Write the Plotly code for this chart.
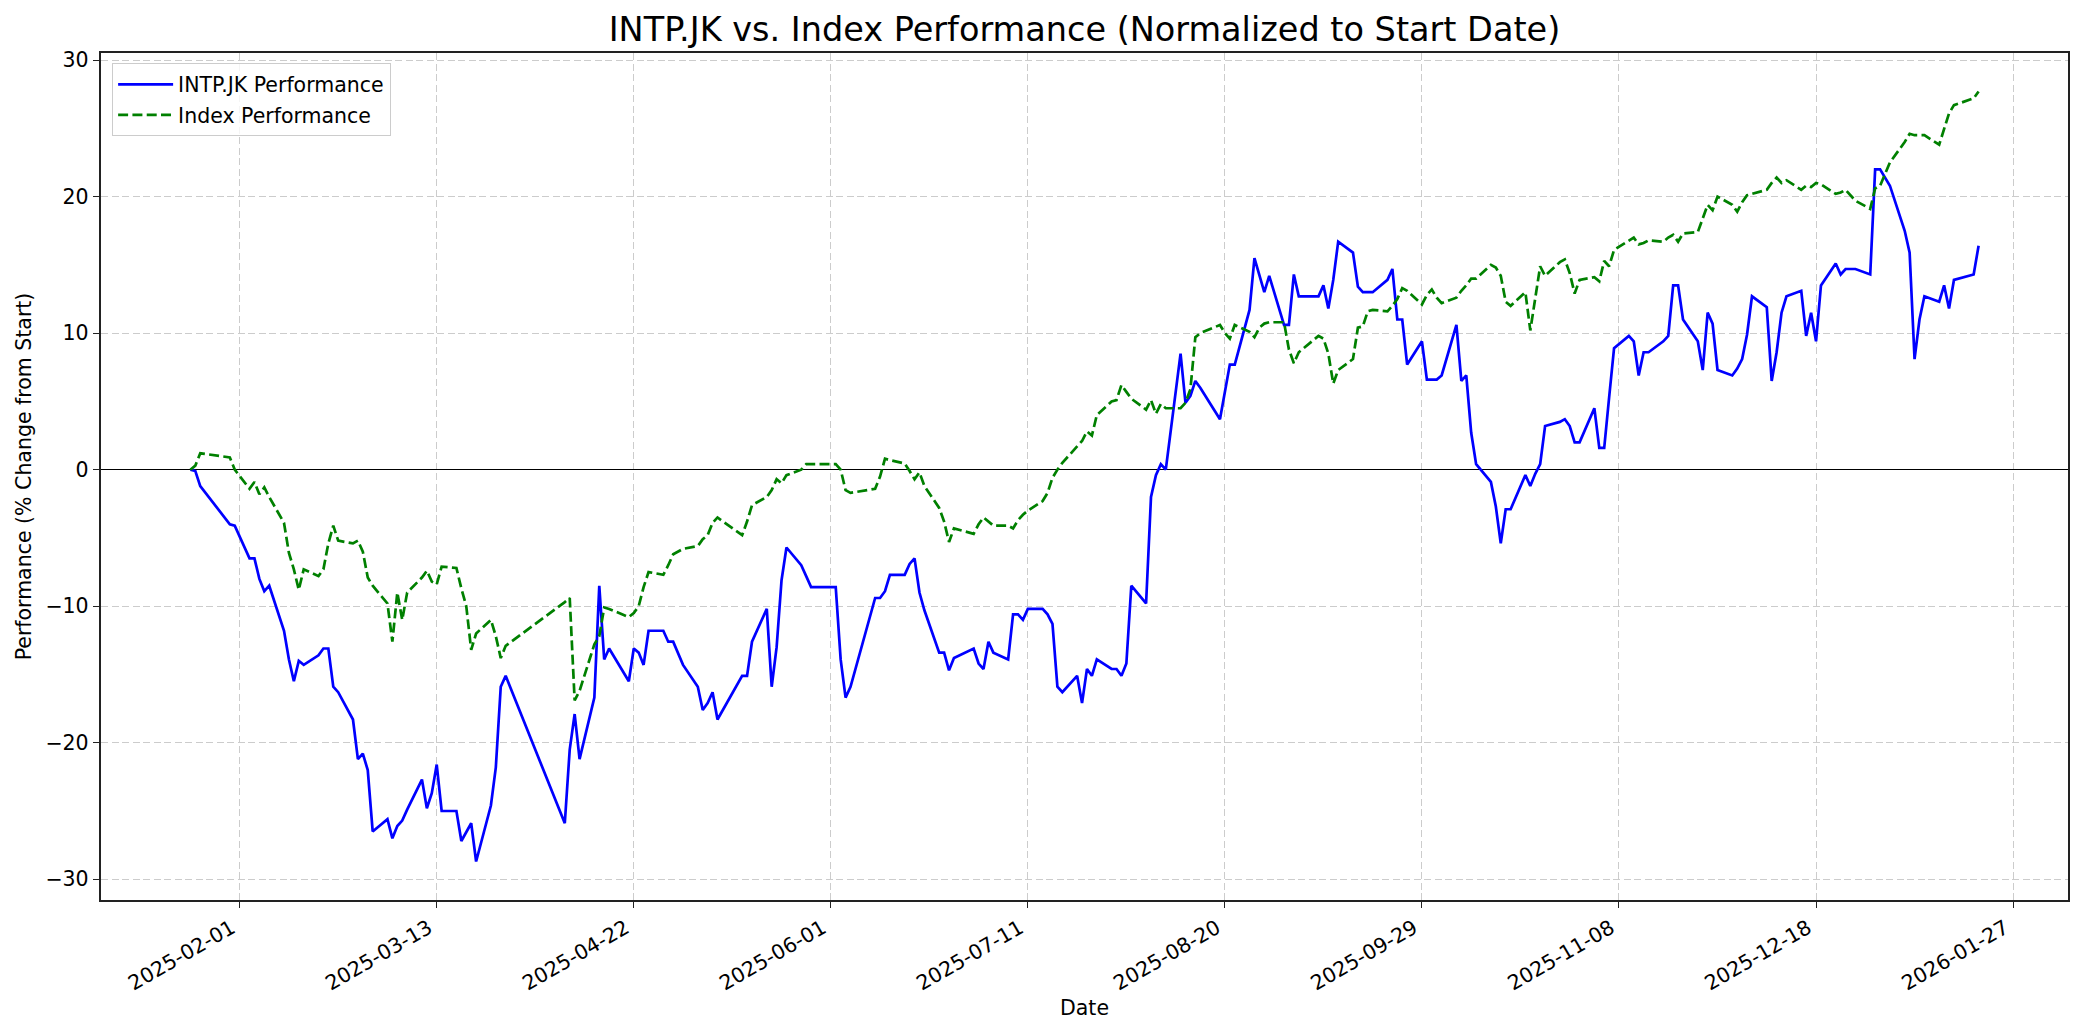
import plotly.graph_objects as go
import pandas as pd

# ---- trading days (day-of-month) per month ----
DAYS_2025_01 = [22, 23, 24, 30, 31]
DAYS_2025_02 = [3, 4, 5, 6, 7, 10, 11, 12, 13, 14, 17, 18, 19, 20, 21, 24, 25, 26, 27, 28]
DAYS_2025_03 = [3, 4, 5, 6, 7, 10, 11, 12, 13, 14, 17, 18, 19, 20, 21, 24, 25, 26, 27]
DAYS_2025_04 = [8, 9, 10, 11, 14, 15, 16, 17, 21, 22, 23, 24, 25, 28, 29, 30]
DAYS_2025_05 = [2, 5, 6, 7, 8, 9, 14, 15, 16, 19, 20, 21, 22, 23, 26, 27, 28]
DAYS_2025_06 = [2, 3, 4, 5, 10, 11, 12, 13, 16, 17, 18, 19, 20, 23, 24, 25, 26, 30]
DAYS_2025_07 = [1, 2, 3, 4, 7, 8, 9, 10, 11, 14, 15, 16, 17, 18, 21, 22, 23, 24, 25, 28, 29, 30, 31]
DAYS_2025_08 = [1, 4, 5, 6, 7, 8, 11, 12, 13, 14, 15, 19, 20, 21, 22, 25, 26, 27, 28, 29]
DAYS_2025_09 = [1, 2, 3, 4, 8, 9, 10, 11, 12, 15, 16, 17, 18, 19, 22, 23, 24, 25, 26, 29, 30]
DAYS_2025_10 = [1, 2, 3, 6, 7, 8, 9, 10, 13, 14, 15, 16, 17, 20, 21, 22, 23, 24, 27, 28, 29, 30, 31]
DAYS_2025_11 = [3, 4, 5, 6, 7, 10, 11, 12, 13, 14, 17, 18, 19, 20, 21, 24, 25, 26, 27, 28]
DAYS_2025_12 = [1, 2, 3, 4, 5, 8, 9, 10, 11, 12, 15, 16, 17, 18, 19, 22, 23, 24, 26, 29, 30, 31]
DAYS_2026_01 = [2, 5, 6, 7, 8, 9, 12, 13, 14, 15, 19, 20]

MONTHS = [
    ("2025-01", DAYS_2025_01), ("2025-02", DAYS_2025_02), ("2025-03", DAYS_2025_03),
    ("2025-04", DAYS_2025_04), ("2025-05", DAYS_2025_05), ("2025-06", DAYS_2025_06),
    ("2025-07", DAYS_2025_07), ("2025-08", DAYS_2025_08), ("2025-09", DAYS_2025_09),
    ("2025-10", DAYS_2025_10), ("2025-11", DAYS_2025_11), ("2025-12", DAYS_2025_12),
    ("2026-01", DAYS_2026_01),
]
DATES = [f"{m}-{d:02d}" for m, days in MONTHS for d in days]

# ---- INTP.JK performance (% change from start) ----
INTP_PCT = [
    0.0, -0.1, -1.2, -4.0, -4.1,                                   # Jan
    -6.5, -6.5, -8.0, -8.9, -8.5, -11.8, -13.9, -15.5, -14.0, -14.3,
    -13.6, -13.1, -13.1, -15.9, -16.3, -18.3, -21.2, -20.8, -22.0, -26.5,  # Feb
    -25.6, -27.0, -26.1, -25.7, -24.9, -22.7, -24.8, -23.7, -21.6, -25.0,
    -25.0, -27.2, -26.6, -25.9, -28.7, -24.6, -21.8, -15.9, -15.1,          # Mar
    -25.9, -20.5, -17.9, -21.2, -16.7, -8.5, -13.9, -13.1,
    -15.5, -13.1, -13.4, -14.3, -11.8, -11.8, -12.6, -12.6,                 # Apr
    -14.3, -15.9, -17.6, -17.1, -16.3, -18.3, -15.1, -15.1, -12.6,
    -10.2, -15.9, -13.0, -8.1, -5.7, -7.0, -7.8, -8.6,                      # May
    -8.6, -13.9, -16.7, -15.9, -9.4, -9.4, -8.9, -7.7, -7.7, -6.9,
    -6.5, -9.0, -10.3, -13.4, -13.4, -14.7, -13.8, -13.1,                   # Jun
    -14.2, -14.6, -12.6, -13.4, -13.9, -10.6, -10.6, -11.0, -10.2, -10.2,
    -10.6, -11.3, -15.9, -16.3, -15.1, -17.1, -14.6, -15.1, -13.9, -14.6,
    -14.6, -15.1, -14.2,                                                    # Jul
    -8.5, -9.8, -2.0, -0.4, 0.4, 0.0, 8.5, 4.9, 5.4, 6.5,
    6.0, 3.7, 5.7, 7.7, 7.7, 11.7, 15.5, 14.2, 13.0, 14.2,                  # Aug
    10.6, 10.6, 14.3, 12.7, 12.7, 13.5, 11.8, 13.9, 16.7, 15.9,
    13.4, 13.0, 13.0, 13.0, 13.9, 14.7, 11.0, 11.0, 7.7, 9.4, 6.6,          # Sep
    6.6, 6.6, 6.9, 10.6, 6.5, 6.9, 2.7, 0.4, -0.9, -2.7,
    -5.4, -2.9, -2.9, -0.4, -1.2, -0.3, 0.4, 3.2, 3.5, 3.7,
    3.2, 2.0, 2.0,                                                          # Oct
    4.5, 1.6, 1.6, 5.3, 8.9, 9.8, 9.4, 6.9, 8.6, 8.6,
    9.4, 9.8, 13.5, 13.5, 11.0, 9.4, 7.3, 11.5, 10.7, 7.3,                  # Nov
    6.9, 7.4, 8.1, 9.9, 12.7, 11.9, 6.5, 8.6, 11.5, 12.7,
    13.1, 9.8, 11.5, 9.4, 13.5, 15.1, 14.3, 14.7, 14.7, 14.3, 22.0, 22.0,   # Dec
    20.8, 17.5, 15.9, 8.1, 11.0, 12.7, 12.3, 13.5, 11.8, 13.9, 14.3, 16.4,  # Jan 2026
]

# ---- Index performance (% change from start) ----
INDEX_PCT = [
    0.0, 0.3, 1.2, 0.9, 0.0,                                        # Jan
    -1.4, -0.9, -1.8, -1.3, -2.0, -3.9, -6.1, -7.3, -8.8, -7.3,
    -7.8, -7.3, -5.4, -4.1, -5.2, -5.4, -5.2, -6.0, -7.9, -8.5,             # Feb
    -9.8, -12.6, -9.0, -11.0, -9.0, -7.9, -7.4, -8.2, -8.4, -7.1,
    -7.2, -8.7, -10.0, -13.2, -12.0, -11.0, -12.2, -13.8, -12.9,            # Mar
    -9.7, -9.4, -16.9, -16.2, -12.8, -12.2, -10.1, -10.2,
    -10.8, -10.5, -10.0, -8.6, -7.5, -7.7, -7.0, -6.2,                      # Apr
    -5.8, -5.6, -5.1, -4.8, -3.9, -3.5, -4.8, -3.8, -2.6,
    -2.0, -1.5, -0.7, -1.0, -0.4, 0.0, 0.4, 0.4,                            # May
    0.4, 0.0, -1.5, -1.7, -1.4, -0.5, 0.8, 0.7, 0.45, -0.1,
    -0.7, -0.2, -1.2, -2.8, -3.8, -5.3, -4.3, -4.7,                         # Jun
    -4.0, -3.5, -3.8, -4.1, -4.1, -4.3, -3.7, -3.3, -3.0, -2.3,
    -1.7, -0.6, 0.0, 0.5, 1.7, 2.1, 2.8, 2.5, 4.0, 5.0,
    5.1, 6.2, 5.7,                                                          # Jul
    5.2, 4.4, 5.1, 4.1, 4.8, 4.5, 4.5, 4.9, 5.9, 9.7,
    10.0, 10.6, 10.0, 9.6, 10.6, 10.1, 9.7, 10.4, 10.7, 10.8,               # Aug
    10.8, 8.8, 7.8, 8.6, 9.8, 9.6, 8.5, 6.3, 7.3, 8.1,
    10.4, 10.5, 11.6, 11.7, 11.6, 12.0, 12.5, 13.3, 13.1, 12.1, 12.8,       # Sep
    13.2, 12.6, 12.2, 12.6, 13.1, 13.5, 14.0, 14.0, 15.0, 14.8,
    14.2, 12.3, 12.0, 13.0, 10.2, 12.6, 14.9, 14.2, 15.2, 15.4,
    14.4, 12.9, 13.9,                                                       # Oct
    14.1, 13.8, 15.3, 14.9, 16.1, 16.8, 17.0, 16.5, 16.6, 16.8,
    16.7, 17.0, 17.2, 16.7, 17.3, 17.4, 18.4, 19.4, 19.0, 20.0,             # Nov
    19.4, 18.9, 19.6, 20.1, 20.2, 20.5, 21.0, 21.4, 21.0, 21.2,
    20.5, 20.8, 20.7, 21.0, 20.9, 20.2, 20.3, 20.5, 19.7, 19.1, 20.6, 20.8, # Dec
    22.5, 24.0, 24.6, 24.5, 24.5, 24.5, 23.8, 25.0, 26.1, 26.7, 27.2, 27.7, # Jan 2026
]

X_TICKS = ["2025-02-01", "2025-03-13", "2025-04-22", "2025-06-01", "2025-07-11",
           "2025-08-20", "2025-09-29", "2025-11-08", "2025-12-18", "2026-01-27"]
Y_TICKS = [-30, -20, -10, 0, 10, 20, 30]

assert len(DATES) == len(INTP_PCT) == len(INDEX_PCT), (len(DATES), len(INTP_PCT), len(INDEX_PCT))

FONT = "DejaVu Sans"
TXT = 20.5

# matplotlib-like 5% auto margins
t0, t1 = pd.Timestamp(DATES[0]), pd.Timestamp(DATES[-1])
xpad = (t1 - t0) * 0.05
x_range = [(t0 - xpad).isoformat(), (t1 + xpad).isoformat()]
lo = min(min(INTP_PCT), min(INDEX_PCT))
hi = max(max(INTP_PCT), max(INDEX_PCT))
ypad = (hi - lo) * 0.05
y_range = [lo - ypad, hi + ypad]

fig = go.Figure()
fig.add_trace(go.Scatter(
    x=DATES, y=INTP_PCT, mode="lines", name="INTP.JK Performance",
    legendgroup="a", line=dict(color="#0000ff", width=2.7),
))
fig.add_trace(go.Scatter(
    x=DATES, y=INDEX_PCT, mode="lines", name="Index Performance",
    legendgroup="b", line=dict(color="#008000", width=2.7, dash="10px,4.3px"),
))

axis_common = dict(
    showline=True, linecolor="#222222", linewidth=1.5, mirror=True,
    showgrid=True, gridcolor="#cccccc", gridwidth=1.3, griddash="7px,3.5px",
    ticks="outside", ticklen=6.5, tickwidth=1.4, tickcolor="#222222",
    tickfont=dict(family=FONT, size=TXT, color="black"),
)

fig.update_xaxes(
    type="date", range=x_range, tickmode="array", tickvals=X_TICKS, ticktext=X_TICKS,
    tickangle=-30, automargin=False, ticklabelshift=-8, ticklabelstandoff=0,
    title=dict(text="Date", font=dict(family=FONT, size=TXT, color="black"), standoff=6),
    **axis_common,
)
fig.update_yaxes(
    range=y_range, tickmode="array", tickvals=Y_TICKS, automargin=False,
    zeroline=True, zerolinecolor="black", zerolinewidth=1.3,
    title=dict(text="Performance (% Change from Start)", font=dict(family=FONT, size=TXT, color="black"), standoff=8),
    **axis_common,
)

fig.update_layout(
    width=2084, height=1035, autosize=False,
    margin=dict(l=101, r=16, t=53, b=135, pad=0),
    paper_bgcolor="white", plot_bgcolor="white",
    font=dict(family=FONT, size=TXT, color="black"),
    title=dict(
        text="INTP.JK vs. Index Performance (Normalized to Start Date)",
        font=dict(family=FONT, size=33.5, color="black"),
        x=0.5, xref="paper", xanchor="center",
        y=1 - 29 / 1035, yref="container", yanchor="middle",
    ),
    legend=dict(
        x=0.0055, y=0.988, xanchor="left", yanchor="top",
        bgcolor="rgba(255,255,255,0.8)", bordercolor="#cccccc", borderwidth=1.3,
        font=dict(family=FONT, size=TXT, color="black"),
        itemwidth=55, traceorder="grouped", tracegroupgap=1,
    ),
    showlegend=True,
)

fig.write_html("out.html", config={"displayModeBar": False},
               post_script="document.body.style.margin='0';")
